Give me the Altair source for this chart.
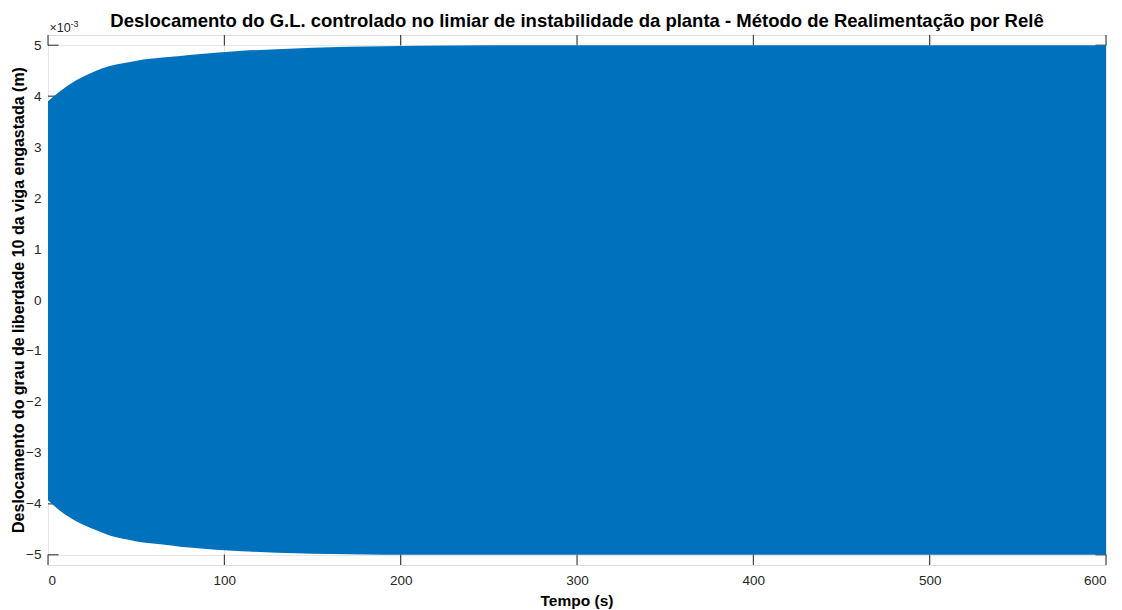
import altair as alt
import pandas as pd

# Envelope of the oscillation (values in units of 1e-3 m)
tempo = [0, 7, 16, 26, 35, 45, 54, 65, 75, 85, 95, 110, 130, 150, 170, 190, 210, 250, 300, 400, 500, 600]
env_sup = [3.90, 4.10, 4.31, 4.48, 4.59, 4.66, 4.72, 4.76, 4.79, 4.82, 4.85, 4.89, 4.92, 4.95, 4.97, 4.98, 4.99, 5.0, 5.0, 5.0, 5.0, 5.0]
env_inf = [-3.93, -4.14, -4.34, -4.50, -4.62, -4.70, -4.76, -4.80, -4.84, -4.87, -4.90, -4.93, -4.96, -4.98, -4.99, -5.0, -5.0, -5.0, -5.0, -5.0, -5.0, -5.0]

x_ticks = [0, 100, 200, 300, 400, 500, 600]
y_ticks = [-5, -4, -3, -2, -1, 0, 1, 2, 3, 4, 5]

titulo = "Deslocamento do G.L. controlado no limiar de instabilidade da planta - Método de Realimentação por Relê"
x_titulo = "Tempo (s)"
y_titulo = "Deslocamento do grau de liberdade 10 da viga engastada (m)"

W, H = 1058, 530
TL = 10.5
FONT = "Liberation Sans"
AXC = "#262626"

band = pd.DataFrame({"t": tempo, "v": env_sup, "v2": env_inf})
xt = pd.DataFrame({"t": x_ticks})
yt = pd.DataFrame({"v": y_ticks})

xscale = alt.Scale(domain=[0, 600], nice=False, zero=False)
yscale = alt.Scale(domain=[-5.2, 5.2], nice=False, zero=False)

xaxis = alt.Axis(values=x_ticks, grid=True, gridColor="#e6e6e6", gridWidth=1,
                 ticks=False, domain=False, labelFont=FONT, labelFontSize=13.5,
                 labelColor=AXC, labelPadding=8, title="")
yaxis = alt.Axis(values=y_ticks, grid=True, gridColor="#e6e6e6", gridWidth=1,
                 ticks=False, domain=False, labelFont=FONT, labelFontSize=13.5,
                 labelColor=AXC, labelPadding=7, title="")

X = alt.X("t:Q", scale=xscale, axis=xaxis)
Y = alt.Y("v:Q", scale=yscale, axis=yaxis)

xt_bot = alt.Chart(xt).mark_rule(color=AXC, strokeWidth=1).encode(
    x=X, y=alt.value(H), y2=alt.value(H - TL))
xt_top = alt.Chart(xt).mark_rule(color=AXC, strokeWidth=1).encode(
    x=X, y=alt.value(0), y2=alt.value(TL))
yt_left = alt.Chart(yt).mark_rule(color=AXC, strokeWidth=1).encode(
    y=Y, x=alt.value(0), x2=alt.value(TL))
yt_right = alt.Chart(yt).mark_rule(color=AXC, strokeWidth=1).encode(
    y=Y, x=alt.value(W), x2=alt.value(W - TL))

area = alt.Chart(band).mark_area(color="#0072BD", interpolate="monotone").encode(
    x=X, y=Y, y2="v2:Q")


def txt(s, x, y, size, weight="normal", color=AXC, align="left", baseline="alphabetic", angle=0):
    return alt.Chart(pd.DataFrame({"s": [s]})).mark_text(
        font=FONT, fontSize=size, fontWeight=weight, color=color,
        align=align, baseline=baseline, angle=angle).encode(
        text="s:N", x=alt.value(x), y=alt.value(y))


exp_base = txt("\u00d710", 1.5, -2.7, 12.5)
exp_sup = txt("-3", 22.5, -8.5, 9)
title = txt(titulo, W / 2, -8, 18.5, weight="bold", color="black", align="center")
xtitle = txt(x_titulo, W / 2, 571, 15.5, weight="bold", color="black", align="center")
ytitle = txt(y_titulo, -29.5, H / 2, 16, weight="bold", color="black", align="center",
             baseline="middle", angle=270)

chart = alt.layer(xt_bot, xt_top, yt_left, yt_right, area, exp_base, exp_sup,
                  title, xtitle, ytitle).properties(
    width=W, height=H,
    autosize=alt.AutoSizeParams(type="none"),
    padding={"left": 40, "top": 27, "right": 8, "bottom": 44},
).configure_view(stroke="#4d4d4d", strokeWidth=1).configure(background="white")

chart.save("out.html", embed_options={"renderer": "svg", "actions": False})
